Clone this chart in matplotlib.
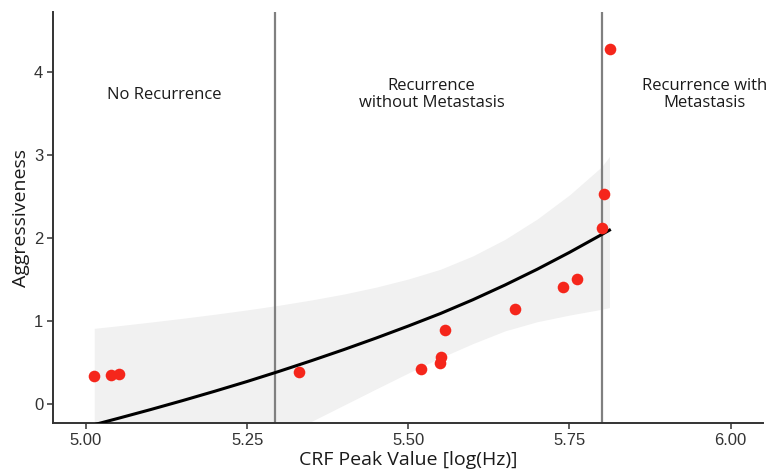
import numpy as np
import matplotlib
matplotlib.use("Agg")
from matplotlib import pyplot as plt

# measured samples
crf_peak = [5.012, 5.039, 5.051, 5.330, 5.520, 5.549, 5.550, 5.557,
            5.665, 5.740, 5.761, 5.801, 5.803, 5.813]
aggressiveness = [0.34, 0.35, 0.36, 0.39, 0.42, 0.49, 0.56, 0.89,
                  1.145, 1.41, 1.51, 2.12, 2.53, 4.28]

# fitted curve and confidence band
fit_x = [5.013, 5.05, 5.10, 5.15, 5.20, 5.25, 5.30, 5.35, 5.40, 5.45,
         5.50, 5.55, 5.60, 5.65, 5.70, 5.75, 5.80, 5.812]
fit_y = [-0.25, -0.174, -0.069, 0.040, 0.153, 0.270, 0.393, 0.521, 0.654,
         0.793, 0.938, 1.089, 1.254, 1.432, 1.622, 1.825, 2.040, 2.093]
band_hi = [0.91, 0.941, 0.985, 1.031, 1.080, 1.132, 1.189, 1.252, 1.323,
           1.406, 1.504, 1.622, 1.782, 1.982, 2.227, 2.517, 2.857, 2.98]
band_lo = [-1.41, -1.289, -1.123, -0.951, -0.774, -0.592, -0.403, -0.210,
           -0.015, 0.180, 0.372, 0.556, 0.726, 0.88, 0.99, 1.07, 1.14, 1.16]

cutoffs = [5.293, 5.800]
regions = ["No Recurrence", "Recurrence\nwithout Metastasis",
           "Recurrence with\nMetastasis"]
region_x = [5.121, 5.536, 5.96]
region_y = [3.72, 3.73, 3.73]

fig = plt.figure(figsize=(7.66, 4.71), dpi=100)
ax = fig.add_axes([0.0692, 0.1019, 0.9268, 0.8726])

ax.fill_between(fit_x, band_lo, band_hi, color="#f1f1f1", lw=0, zorder=1)
for c in cutoffs:
    ax.axvline(c, color="#808080", lw=1.6, zorder=2)
ax.plot(fit_x, fit_y, color="black", lw=2.2, zorder=3)
ax.scatter(crf_peak, aggressiveness, s=70, color="#f5261b", lw=0, zorder=4)

for label, tx, ty in zip(regions, region_x, region_y):
    ax.text(tx, ty, label, ha="center", va="center", fontsize=12,
            family="Open Sans", color="#1a1a1a", linespacing=1.05,
            clip_on=False)

ax.set_xlim(4.949, 6.05)
ax.set_ylim(-0.23, 4.72)
ax.set_xticks([5.00, 5.25, 5.50, 5.75, 6.00])
ax.set_xticklabels(["5.00", "5.25", "5.50", "5.75", "6.00"])
ax.set_yticks([0, 1, 2, 3, 4])

for s in ["top", "right"]:
    ax.spines[s].set_visible(False)
for s in ["left", "bottom"]:
    ax.spines[s].set_color("#333333")
    ax.spines[s].set_linewidth(1.4)
ax.tick_params(length=4, width=1.1, color="#333333", labelcolor="#333333",
               labelsize=12, pad=3)
for lab in ax.get_xticklabels() + ax.get_yticklabels():
    lab.set_family("Liberation Sans")

ax.set_xlabel("CRF Peak Value [log(Hz)]", family="Open Sans", fontsize=14,
              color="#1a1a1a", labelpad=2)
ax.set_ylabel("Aggressiveness", family="Open Sans", fontsize=14,
              color="#1a1a1a", labelpad=3)

fig.savefig("out.png", dpi=100)
